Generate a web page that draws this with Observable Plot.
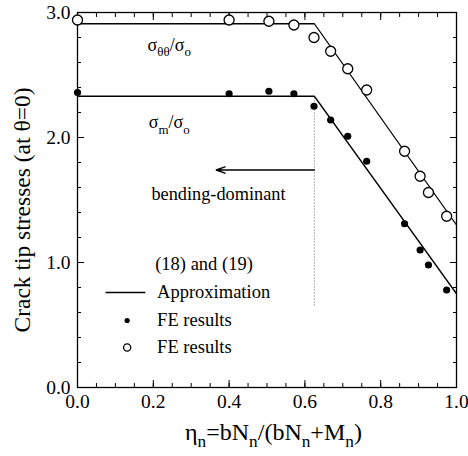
<!DOCTYPE html>
<html>
<head>
<meta charset="utf-8">
<script src="https://cdn.jsdelivr.net/npm/d3@7"></script>
<script src="https://cdn.jsdelivr.net/npm/@observablehq/plot@0.6"></script>
<style>
  html, body { margin: 0; padding: 0; background: white; }
  #chart { width: 468px; height: 456px; }
</style>
</head>
<body>
<div id="chart"></div>
<script>
// ---- data ----
const etaPoints = [0.0, 0.40, 0.505, 0.571, 0.624, 0.668, 0.713, 0.763, 0.863, 0.904, 0.926, 0.974];
const sigmaThetaFE = [2.94, 2.94, 2.93, 2.90, 2.80, 2.69, 2.55, 2.38, 1.89, 1.69, 1.56, 1.37];
const sigmaMFE = [2.36, 2.35, 2.37, 2.35, 2.25, 2.14, 2.01, 1.81, 1.31, 1.10, 0.98, 0.78];

const approxEta = [0.0, 0.625, 1.0];
const approxTheta = [2.91, 2.91, 1.30];
const approxM = [2.33, 2.33, 0.75];

const xMajorTicks = [0, 0.2, 0.4, 0.6, 0.8, 1.0];
const xMinorTicks = d3.range(0, 1.0001, 0.05);
const yMajorTicks = [0, 1, 2, 3];
const yMinorTicks = d3.range(0, 3.0001, 0.2);

const fe = etaPoints.map((x, i) => ({x, theta: sigmaThetaFE[i], m: sigmaMFE[i]}));
const apTheta = approxEta.map((x, i) => ({x, y: approxTheta[i]}));
const apM = approxEta.map((x, i) => ({x, y: approxM[i]}));

const font = "Liberation Serif, Times New Roman, serif";
const fmt = d => d.toFixed(1);

const plot = Plot.plot({
  width: 468,
  height: 456,
  marginLeft: 77,
  marginRight: 12,
  marginTop: 12,
  marginBottom: 69,
  style: {fontFamily: font, background: "white", color: "black"},
  x: {domain: [0, 1]},
  y: {domain: [0, 3]},
  marks: [
    // inward ticks
    Plot.axisX(xMinorTicks, {anchor: "bottom", tickSize: -4, tickFormat: () => "", label: null}),
    Plot.axisX(xMajorTicks, {anchor: "bottom", tickSize: -7, tickFormat: () => "", label: null}),
    Plot.axisX(xMinorTicks, {anchor: "top", tickSize: -4, tickFormat: () => "", label: null}),
    Plot.axisX(xMajorTicks, {anchor: "top", tickSize: -7, tickFormat: () => "", label: null}),
    Plot.axisY(yMinorTicks, {anchor: "left", tickSize: -4, tickFormat: () => "", label: null}),
    Plot.axisY(yMajorTicks, {anchor: "left", tickSize: -7, tickFormat: () => "", label: null}),
    Plot.axisY(yMinorTicks, {anchor: "right", tickSize: -4, tickFormat: () => "", label: null}),
    Plot.axisY(yMajorTicks, {anchor: "right", tickSize: -7, tickFormat: () => "", label: null}),
    // tick labels
    Plot.axisX(xMajorTicks, {anchor: "bottom", tickSize: 0, tickPadding: 7, tickFormat: fmt, label: null, fontSize: 19.5}),
    Plot.axisY(yMajorTicks, {anchor: "left", tickSize: 0, tickPadding: 7, tickFormat: fmt, label: null, fontSize: 19.5}),
    Plot.frame({stroke: "black", strokeWidth: 1.3}),
    // axis titles
    Plot.text([{x: 0.517}], {x: "x", frameAnchor: "bottom", dy: 52, fontSize: 24, text: () => "η_{n}=bN_{n}/(bN_{n}+M_{n})"}),
    Plot.text([{y: 1.42}], {y: "y", frameAnchor: "left", textAnchor: "middle", dx: -55, rotate: -90, fontSize: 23.5, text: () => "Crack tip stresses (at θ=0)"}),
    // dotted divider
    Plot.ruleX([0.625], {y1: 0.65, y2: 2.33, stroke: "#999", strokeDasharray: "1.5,1.5", strokeWidth: 1}),
    // approximation lines
    Plot.line(apTheta, {x: "x", y: "y", stroke: "black", strokeWidth: 1.3}),
    Plot.line(apM, {x: "x", y: "y", stroke: "black", strokeWidth: 1.3}),
    // FE points
    Plot.dot(fe, {x: "x", y: "m", r: 3.6, fill: "black"}),
    Plot.dot(fe, {x: "x", y: "theta", r: 5, fill: "white", stroke: "black", strokeWidth: 1.3}),
    // curve labels
    Plot.text(["σ_{θθ}/σ_{o}"], {x: 0.242, y: 2.74, fontSize: 18, text: d => d}),
    Plot.text(["σ_{m}/σ_{o}"], {x: 0.242, y: 2.12, fontSize: 18, text: d => d}),
    // bending-dominant arrow
    Plot.arrow([{x1: 0.625, x2: 0.366, y: 1.74}], {x1: "x1", x2: "x2", y1: "y", y2: "y", stroke: "black", strokeWidth: 1.4, headLength: 10, headAngle: 40}),
    Plot.text(["bending-dominant"], {x: 0.372, y: 1.55, fontSize: 18.3, text: d => d}),
    // legend
    Plot.text(["(18) and (19)"], {x: 0.205, y: 0.99, textAnchor: "start", fontSize: 18.5, text: d => d}),
    Plot.link([{x1: 0.074, x2: 0.179, y: 0.76}], {x1: "x1", x2: "x2", y1: "y", y2: "y", stroke: "black", strokeWidth: 1.3}),
    Plot.text(["Approximation"], {x: 0.21, y: 0.76, textAnchor: "start", fontSize: 18.5, text: d => d}),
    Plot.dot([{x: 0.131, y: 0.536}], {x: "x", y: "y", r: 2.6, fill: "black"}),
    Plot.text(["FE results"], {x: 0.21, y: 0.536, textAnchor: "start", fontSize: 18.5, text: d => d}),
    Plot.dot([{x: 0.131, y: 0.32}], {x: "x", y: "y", r: 3.6, fill: "white", stroke: "black", strokeWidth: 1.3}),
    Plot.text(["FE results"], {x: 0.21, y: 0.32, textAnchor: "start", fontSize: 18.5, text: d => d})
  ]
});

document.getElementById("chart").appendChild(plot);

// convert _{...} markup into subscript tspans
const NS = "http://www.w3.org/2000/svg";
plot.querySelectorAll("text").forEach(t => {
  const s = t.textContent;
  if (!s.includes("_{")) return;
  const fs = parseFloat(getComputedStyle(t).fontSize) || 16;
  const shift = fs * 0.3;
  while (t.firstChild) t.removeChild(t.firstChild);
  const parts = s.split(/(_\{[^}]*\})/).filter(p => p);
  let down = false;
  for (const p of parts) {
    const ts = document.createElementNS(NS, "tspan");
    if (p.startsWith("_{")) {
      ts.textContent = p.slice(2, -1);
      ts.setAttribute("font-size", (fs * 0.72) + "px");
      if (!down) ts.setAttribute("dy", shift);
      down = true;
    } else {
      ts.textContent = p;
      if (down) ts.setAttribute("dy", -shift);
      down = false;
    }
    t.appendChild(ts);
  }
});
</script>
</body>
</html>
